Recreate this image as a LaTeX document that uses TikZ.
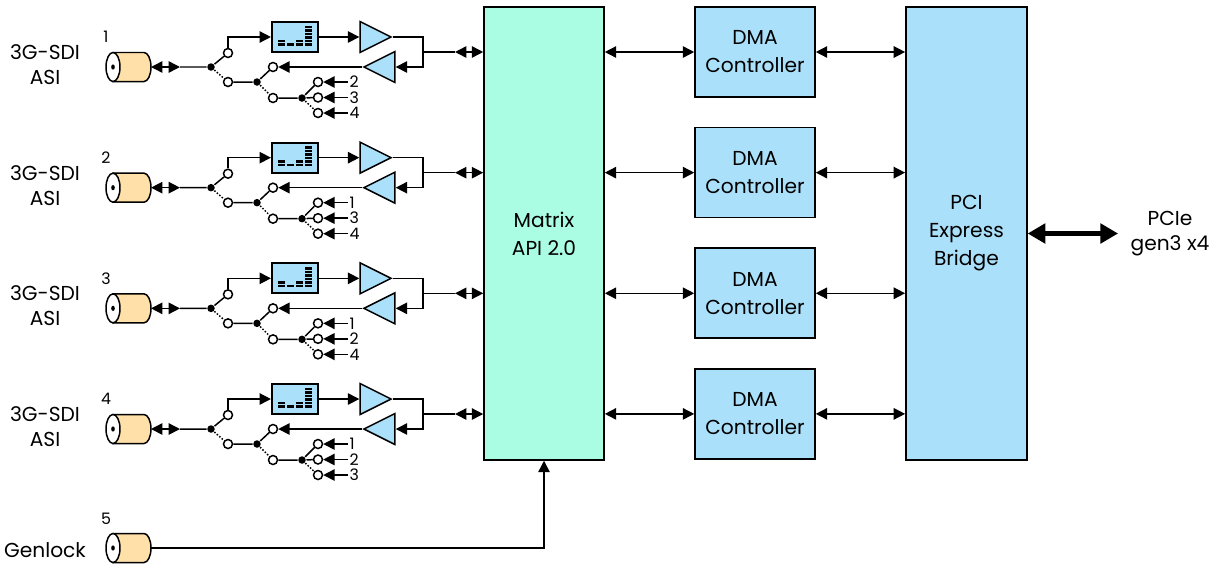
\documentclass[tikz,border=0pt]{standalone}
\usepackage{fontspec}
\setmainfont{Poppins}
\usetikzlibrary{arrows.meta,positioning,shapes.geometric}

\definecolor{boxblue}{RGB}{170,224,250}
\definecolor{mint}{RGB}{170,252,226}
\definecolor{coaxtan}{RGB}{255,224,168}

\newcommand\blkfont{\fontsize{11.5}{15.9}\selectfont}
\newcommand\lblfont{\fontsize{11.5}{14.2}\selectfont}
\newcommand\numfont{\fontsize{9}{10}\selectfont}

\tikzset{
  coax/.pic={
    \filldraw[fill=coaxtan] (0,-14.5) -- (31,-14.5)
      arc[start angle=-90,end angle=90,x radius=7,y radius=14.5] -- (0,14.5) -- cycle;
    \filldraw[fill=white] (0,0) ellipse [x radius=7,y radius=14.5];
    \fill (0,0) ellipse [x radius=1.8,y radius=2.6];
    \coordinate (-e) at (38,0);
  },
  levels/.pic={
    \foreach \cx/\n in {-13.5/2,-4.5/1,4.5/2,13.5/6}
      \foreach \k in {1,...,\n}
        \fill ({\cx-3.25},{9.7-3.5*\k}) rectangle ++(6.5,2.6);
  }
}

\begin{document}
\begin{tikzpicture}[x=0.02cm,y=-0.02cm,node distance=2.413cm,on grid,
  >={Triangle[length=6.5pt,width=6.5pt]},line width=0.85pt,
  blk/.style={draw,line width=0.9pt,minimum width=2.4cm,align=center,font=\blkfont},
  dma/.style={blk,fill=boxblue,minimum height=1.8cm},
  jn/.style={circle,fill,inner sep=0pt,minimum size=0.15cm},
  pin/.style={circle,draw,fill=white,inner sep=0pt,minimum size=0.18cm},
  meter/.style={draw,fill=boxblue,line width=1.2pt,minimum width=0.92cm,minimum height=0.6cm,inner sep=0pt},
  amp/.style={isosceles triangle,isosceles triangle stretches,draw,fill=boxblue,
    inner sep=0pt,minimum width=0.62cm,minimum height=0.62cm},
  lbl/.style={align=center,font=\lblfont},
  num/.style={font=\numfont,inner sep=0.5pt}]
  \useasboundingbox (0,0) rectangle (1212,565);

  % main blocks
  \node[blk,fill=mint,minimum height=9.06cm] (matrix) at (544,233.5) {Matrix\\API 2.0};
  \node[dma] (dma1) at (755,52) {DMA\\Controller};
  \node[dma] (dma2) [below = of dma1] {DMA\\Controller};
  \node[dma] (dma3) [below = of dma2] {DMA\\Controller};
  \node[dma] (dma4) [below = of dma3] {DMA\\Controller};
  \node[blk,fill=boxblue,minimum height=9.06cm,minimum width=2.42cm] (pci) [right = 8.45cm of matrix] {PCI\\Express\\Bridge};
  \coordinate (host) at (1118,233.5);
  \node[lbl] (pcie) at (1170,233.5) {PCIe\\gen3 x4};
  \foreach \k in {1,...,4} {
    \draw[<->] (matrix.east |- dma\k) -- (dma\k);
    \draw[<->] (dma\k) -- (pci.west |- dma\k);
  }
  \draw[line width=2.3pt,{Triangle[length=10pt,width=11pt]}-{Triangle[length=10pt,width=11pt]}] (pci) -- (host);

  % SDI channels
  \foreach \i/\a/\b/\c in {1/2/3/4,2/1/3/4,3/1/2/4,4/1/2/3} {
    \pgfmathsetmacro\y{67+120.67*(\i-1)}
    \node[lbl] (name\i) at (45,\y-2.5) {3G-SDI\\ASI};
    \node[num] (id\i) at (106,\y-30) {\i};
    \pic (cx\i) at (113,\y) {coax};
    \coordinate (a\i) at (180,\y);
    \node[jn] (s\i) at (211,\y) {};
    \node[pin] (p\i) at (228,\y-14) {};
    \node[pin] (q\i) at (228,\y+15) {};
    \node[meter] (m\i) at (295,\y-30) {};
    \pic at (m\i) {levels};
    \node[amp,anchor=apex] (tx\i) at (393,\y-30) {};
    \node[amp,shape border rotate=180,anchor=apex] (rx\i) at (362,\y) {};
    \coordinate (j\i) at (423,\y-15);
    \coordinate (b\i) at (455,\y-15);
    \node[jn] (t\i) at (257,\y+15) {};
    \node[pin] (r\i) at (273,\y) {};
    \node[pin] (u\i) at (273,\y+31) {};
    \node[jn] (v\i) at (302,\y+31) {};
    \node[pin] (ka\i) at (318,\y+15) {};
    \node[pin] (kb\i) at (318,\y+30.5) {};
    \node[pin] (kc\i) at (318,\y+46) {};
    \node[num,anchor=west] (la\i) at (348,\y+15) {\a};
    \node[num,anchor=west] (lb\i) at (348,\y+30.5) {\b};
    \node[num,anchor=west] (lc\i) at (348,\y+46) {\c};
    \draw[<->] (cx\i-e) -- (a\i);
    \draw (a\i) -- (s\i) -- (p\i);
    \draw[densely dotted] (s\i) -- (q\i);
    \draw[->] (p\i) |- (m\i);
    \draw[->] (m\i) -- (tx\i);
    \draw[->] (tx\i.apex) -| (j\i) |- (rx\i);
    \draw (j\i) -- (b\i);
    \draw[<->] (b\i) -- (matrix.west |- b\i);
    \draw[->] (rx\i.apex) -- (r\i);
    \draw (q\i) -- (t\i) -- (r\i);
    \draw[densely dotted] (t\i) -- (u\i);
    \draw (u\i) -- (v\i) -- (ka\i);
    \draw (v\i) -- (kb\i);
    \draw[densely dotted] (v\i) -- (kc\i);
    \draw[->] (la\i) -- (ka\i);
    \draw[->] (lb\i) -- (kb\i);
    \draw[->] (lc\i) -- (kc\i);
  }

  % genlock
  \node[lbl] (gl) at (45,550) {Genlock};
  \node[num] (id5) at (106,519) {5};
  \pic (cx5) at (113,548) {coax};
  \draw[->] (cx5-e) -| (matrix);
\end{tikzpicture}
\end{document}
